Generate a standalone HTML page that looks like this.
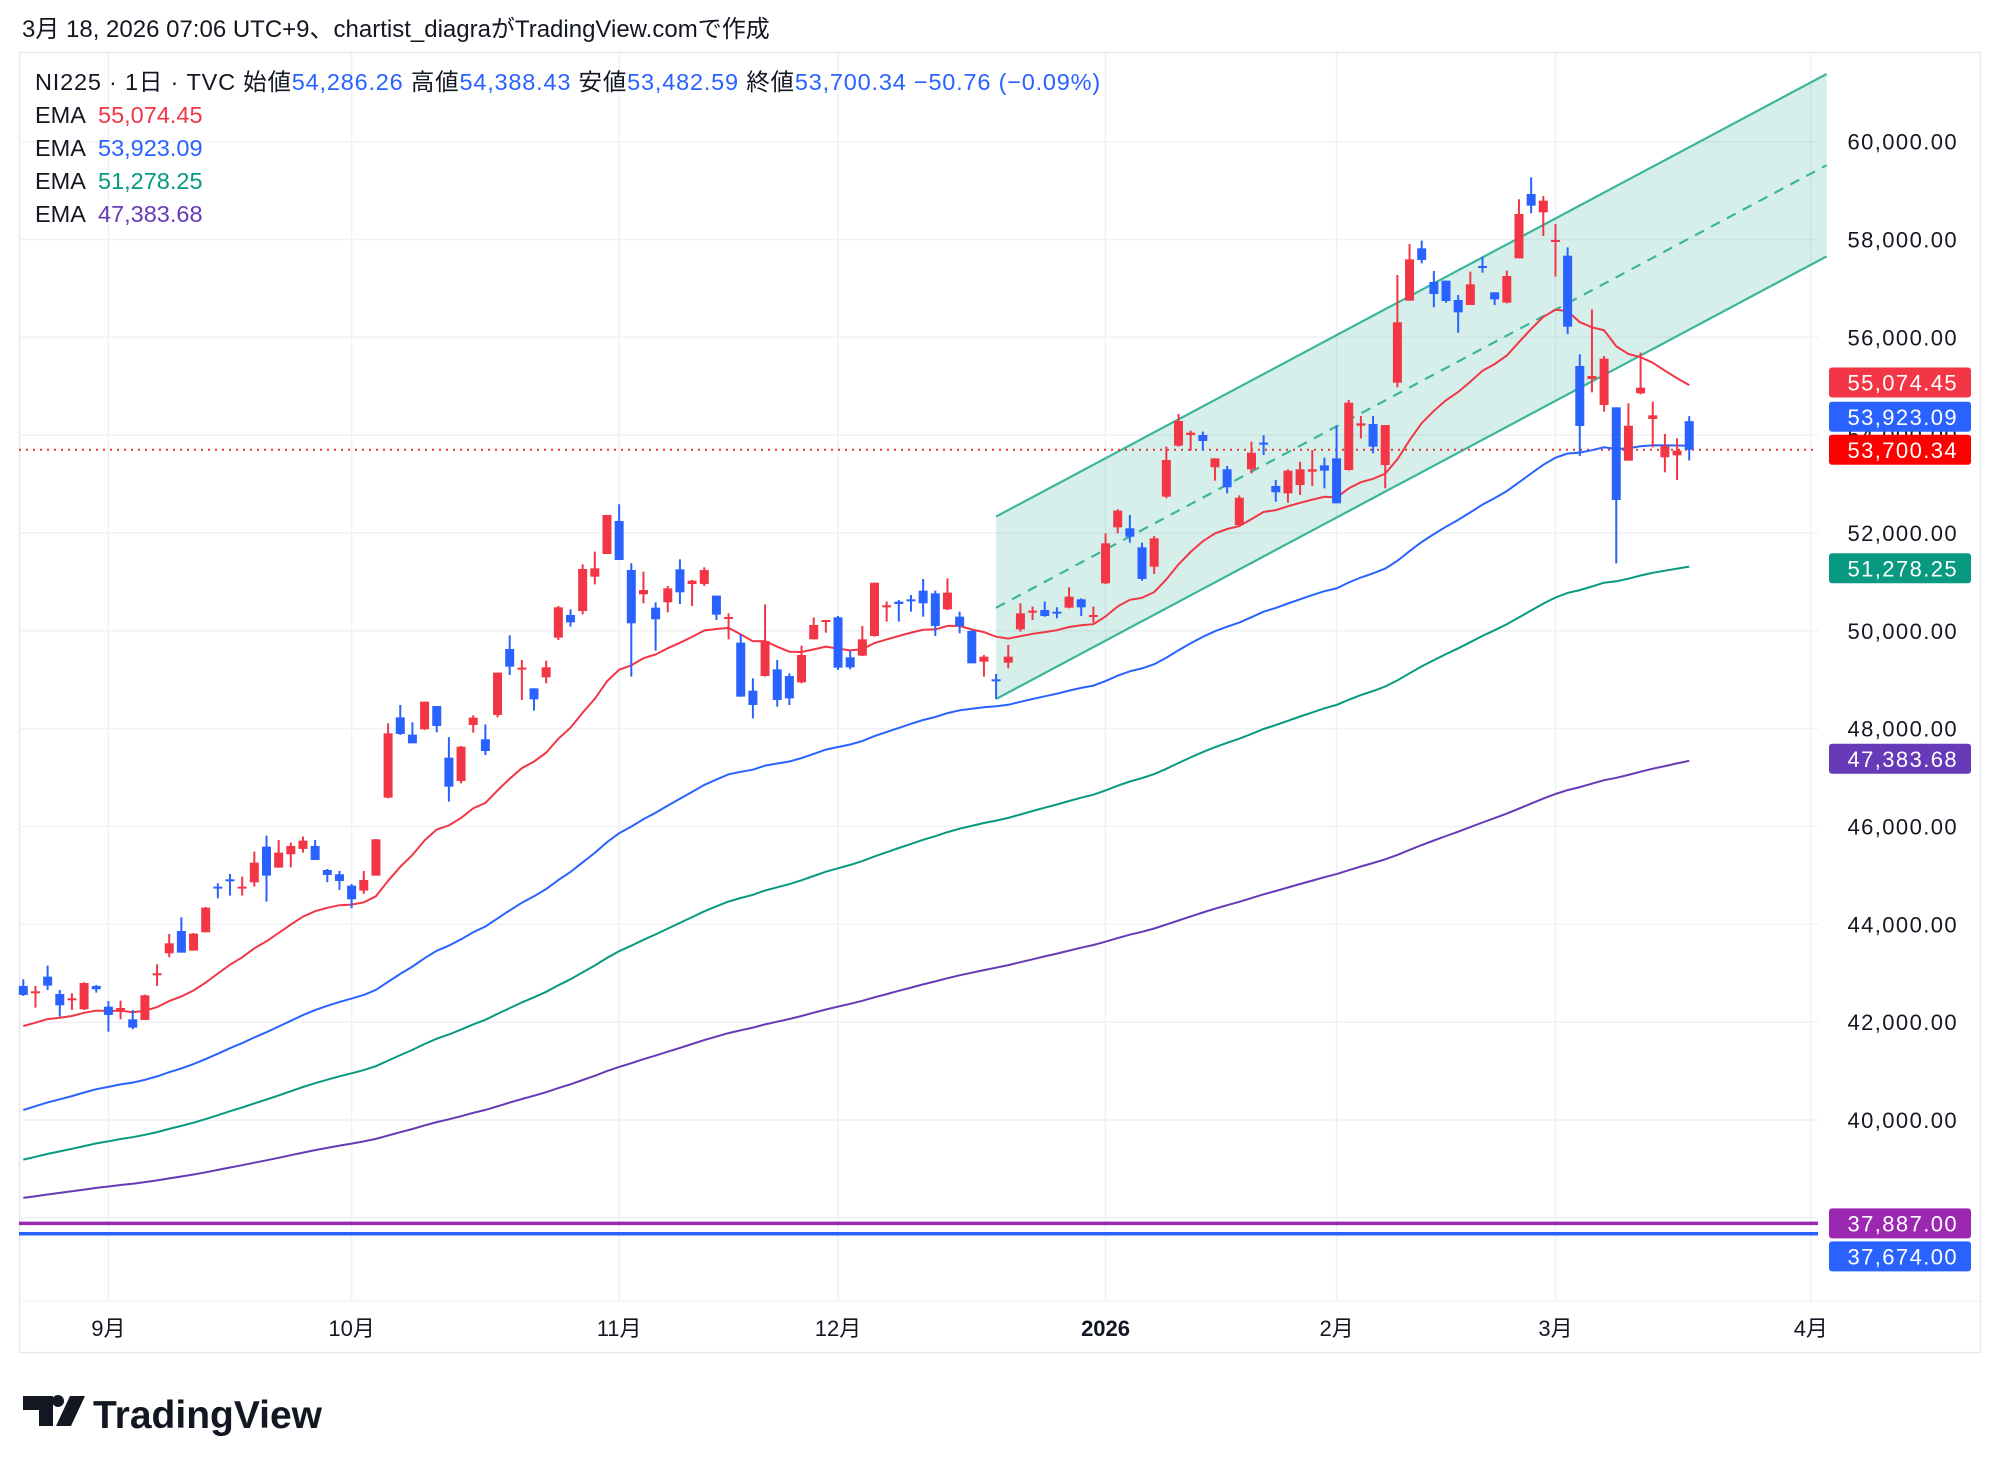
<!DOCTYPE html>
<html><head><meta charset="utf-8">
<style>
html,body{margin:0;padding:0;background:#fff;}
svg{display:block;}
text{font-family:"Liberation Sans","Noto Sans CJK JP",sans-serif;}
</style></head>
<body>
<svg id="chart" width="2000" height="1469" viewBox="0 0 2000 1469" xmlns="http://www.w3.org/2000/svg">
<rect x="0" y="0" width="2000" height="1469" fill="#ffffff"/>
<text x="22" y="37" font-size="24" fill="#131722">3月 18, 2026 07:06 UTC+9、chartist_diagraがTradingView.comで作成</text>
<rect x="19.5" y="52.5" width="1961" height="1300" fill="none" stroke="#e6e8ee" stroke-width="1.5"/>
<g id="grid"></g>
<g id="channel"></g>
<g id="hlines"></g>
<g id="emas"></g>
<g id="candles"></g>
<g id="yaxis"></g>
<g id="xaxis"></g>
<g id="labels"></g>
<g font-size="23.5">
<text x="35" y="90" fill="#131722" letter-spacing="0.8">NI225 · 1日 · TVC  始値<tspan fill="#2962ff">54,286.26</tspan>  高値<tspan fill="#2962ff">54,388.43</tspan>  安値<tspan fill="#2962ff">53,482.59</tspan>  終値<tspan fill="#2962ff">53,700.34  −50.76 (−0.09%)</tspan></text>
<text x="35" y="123" fill="#131722">EMA <tspan x="98" fill="#f23645">55,074.45</tspan></text>
<text x="35" y="156" fill="#131722">EMA <tspan x="98" fill="#2962ff">53,923.09</tspan></text>
<text x="35" y="189" fill="#131722">EMA <tspan x="98" fill="#089981">51,278.25</tspan></text>
<text x="35" y="222" fill="#131722">EMA <tspan x="98" fill="#673ab7">47,383.68</tspan></text>
</g>
<g>
<path d="M23 1396 h30 v30 h-14 v-16 h-16 z M58 1407 a6 6 0 1 1 0.1 0 z M70 1396 h15 l-14 30 h-15 z" fill="#131722"/>
<text x="93" y="1428" font-size="39" font-weight="bold" fill="#131722">TradingView</text>
</g>
</svg>
<script>
const opens=[42740,42610,42931,42576,42454,42263,42740,42317,42249,42058,42045,42978,43408,43864,43462,43837,44771,44920,44750,44859,45588,45159,45432,45541,45602,45111,45023,44791,44689,44995,
46589,48231,47877,47986,48463,47407,46930,48075,47782,48279,49628,49219,48824,49049,49860,50323,50405,51107,51570,52245,51243,50746,50473,50582,51257,50957,50957,50719,50248,49758,48776,49076,49213,
49076,48947,49826,50187,50275,49458,49492,49894,50507,50596,50643,50820,50766,50439,50289,49996,49369,49008,49349,50030,50391,50425,50391,50473,50643,50303,50970,52115,52095,51706,51311,52742,53784,
54002,54002,53341,53301,52160,53301,53846,52960,52810,52980,53253,53382,53525,53287,54193,54227,53389,55072,56748,57818,57130,57157,56762,56660,57457,56919,56708,57614,58929,58554,57948,57668,55413,55147,54616,54568,53478,54854,54330,53546,53587,54286];
const highs=[42876,42740,43156,42658,42590,42815,42760,42433,42440,42249,42563,43183,43803,44144,43823,44355,44839,45029,44975,45486,45813,45724,45670,45793,45724,45132,45091,44825,45091,45738,
48109,48484,48129,48552,48463,47823,47645,48272,48088,49145,49908,49403,48824,49390,50507,50439,51359,51618,52368,52586,51380,51209,50582,50916,51461,51039,51298,50719,50357,49935,49029,50541,49403,
49131,49696,50275,50221,50303,49594,50098,50984,50596,50630,50732,51059,50820,51072,50391,50016,49505,49117,49710,50562,50494,50596,50480,50889,50664,50494,51992,52483,52367,51802,51938,53764,54432,
54091,54071,53525,53369,52770,53866,53996,53083,53301,53457,53696,53539,54193,54718,54391,54391,54207,57273,57907,57975,57355,57157,56864,57341,57648,56919,57362,58820,59270,58888,58316,57839,55651,56571,55617,54568,54650,55686,54684,54023,53934,54388];
const lows=[42536,42297,42658,42113,42249,42249,42604,41806,42058,41854,42045,42740,43326,43421,43462,43837,44532,44587,44587,44771,44464,45159,45166,45466,45316,44859,44702,44328,44621,44995,
46576,47870,47700,47973,47925,46508,46882,47918,47461,48231,49097,48586,48368,48926,49812,50085,50337,50950,51570,51448,49063,50562,49594,50378,50548,50507,50916,50221,49826,48654,48211,49063,48449,
48483,48926,49826,49962,49199,49212,49485,49880,50187,50187,50391,50289,49894,50425,49948,49335,49063,48606,49233,49982,50221,50289,50255,50459,50303,50166,50957,51992,51802,51025,51161,52708,53764,
53682,53682,53069,52810,52130,53219,53594,52640,52619,52776,52960,52912,52606,53273,53934,53628,52912,54977,56748,57512,56612,56708,56094,56660,57321,56660,56694,57614,58534,58070,57239,56067,53573,54875,54479,51379,53478,54834,53750,53239,53083,53482];
const closes=[42556,42631,42747,42345,42488,42801,42672,42147,42290,41888,42549,42999,43612,43421,43810,44341,44750,44886,44771,45261,44995,45466,45602,45711,45316,45009,44886,44512,44907,45738,
47904,47891,47700,48552,48054,46814,47632,48225,47543,49145,49267,49247,48599,49254,50480,50173,51264,51277,52368,51448,50153,50834,50235,50868,50787,51025,51243,50330,50282,48654,48484,49792,48586,
48619,49505,50119,50221,49246,49253,49826,50984,50521,50548,50630,50562,50098,50780,50098,49335,49471,48981,49471,50357,50412,50303,50371,50698,50480,50323,51788,52456,51924,51059,51890,53491,54289,
54050,53880,53525,52933,52720,53641,53818,52831,53273,53301,53301,53273,52606,54663,54241,53764,54207,56306,57593,57580,56885,56742,56510,57082,57430,56776,57253,58520,58691,58793,57989,56217,54186,55208,55563,52674,54193,54970,54405,53778,53682,53700.34];
const emaPeriods=[20,62,118,240];
const emaSeeds=[41922,40205,39190,38407];
const emaColors=['#f23645','#2962ff','#089981','#673ab7'];
const yTicks=[38000,40000,42000,44000,46000,48000,50000,52000,54000,56000,58000,60000];
const monthBars=[7,27,49,67,89,108,126,147];
const monthLabels=['9月','10月','11月','12月','2026','2月','3月','4月'];
const channelBars=[80,148.3];
const channelUpper=[52335,61382];
const channelLower=[48606,57654];
const hLevels=[37887,37674];
const hColors=['#9c27b0','#2962ff'];
const lastClose=53700.34;

const NS='http://www.w3.org/2000/svg';
const X0=23.3, DX=12.16, PL=19, PR=1818, PT=53, PB=1301;
function xOf(i){return X0+i*DX;}
function yOf(p){return 141.6+(60000-p)*0.04892;}
function mk(tag,attrs,parent){const e=document.createElementNS(NS,tag);for(const k in attrs)e.setAttribute(k,attrs[k]);parent.appendChild(e);return e;}
const grid=document.getElementById('grid');
yTicks.forEach(v=>{const l=mk('line',{x1:PL,x2:PR,y1:yOf(v),y2:yOf(v),stroke:'#f0f1f4','stroke-width':1.5},grid);

});
monthBars.forEach(b=>{const l=mk('line',{x1:xOf(b),x2:xOf(b),y1:PT,y2:PB,stroke:'#f0f1f4','stroke-width':1.5},grid);

});
const sep1=mk('line',{x1:PL,x2:1980,y1:PB,y2:PB,stroke:'#eceef2','stroke-width':1},grid);



const ch=document.getElementById('channel');
const cx1=xOf(channelBars[0]),cx2=xOf(channelBars[1]);
const poly=mk('polygon',{points:`${cx1},${yOf(channelUpper[0])} ${cx2},${yOf(channelUpper[1])} ${cx2},${yOf(channelLower[1])} ${cx1},${yOf(channelLower[0])}`,fill:'rgba(8,153,129,0.16)'},ch);


[[channelUpper,'channel-upper',null],[channelLower,'channel-lower',null],[[ (channelUpper[0]+channelLower[0])/2,(channelUpper[1]+channelLower[1])/2],'channel-median','10 8']].forEach(([arr,nm,dash])=>{
const a={x1:cx1,x2:cx2,y1:yOf(arr[0]),y2:yOf(arr[1]),stroke:'#3bb69b','stroke-width':2.2};if(dash)a['stroke-dasharray']=dash;
const l=mk('line',a,ch);

});

const hl=document.getElementById('hlines');
hLevels.forEach((v,k)=>{const l=mk('line',{x1:PL,x2:PR,y1:yOf(v),y2:yOf(v),stroke:hColors[k],'stroke-width':3.5},hl);

});
const dl=mk('line',{x1:PL,x2:PR,y1:yOf(lastClose),y2:yOf(lastClose),stroke:'#e53935','stroke-width':2,'stroke-dasharray':'2 5'},hl);



const eg=document.getElementById('emas');
emaPeriods.forEach((n,k)=>{const a=2/(n+1);let e=emaSeeds[k];const pts=[];
closes.forEach((c,i)=>{if(i>0)e=a*c+(1-a)*e;pts.push(xOf(i).toFixed(1)+','+yOf(e).toFixed(1));});
const pl=mk('polyline',{points:pts.join(' '),fill:'none',stroke:emaColors[k],'stroke-width':2},eg);

});

const cg=document.getElementById('candles');
closes.forEach((c,i)=>{const o=opens[i],up=c>=o,col=up?'#f23645':'#2962ff';const x=xOf(i);
const w=mk('line',{x1:x,x2:x,y1:yOf(highs[i]),y2:yOf(lows[i]),stroke:col,'stroke-width':2},cg);


const t=yOf(Math.max(o,c)),b=yOf(Math.min(o,c));
const r=mk('rect',{x:x-4.5,y:t,width:9,height:Math.max(2,b-t),fill:col},cg);

});

const ya=document.getElementById('yaxis');
yTicks.forEach(v=>{if(v<40000)return;const t=mk('text',{x:1958,y:yOf(v)+8,'text-anchor':'end','font-size':22,fill:'#131722','letter-spacing':'1.4'},ya);
t.textContent=v.toLocaleString('en-US',{minimumFractionDigits:2});

});

const xa=document.getElementById('xaxis');
monthBars.forEach((b,k)=>{const t=mk('text',{x:xOf(b),y:1336,'text-anchor':'middle','font-size':22,fill:'#131722','font-weight':monthLabels[k]==='2026'?'bold':'normal'},xa);
t.textContent=monthLabels[k];

});

const lg=document.getElementById('labels');
const labelVals=[55074.45,53923.09,lastClose,51278.25,47383.68,37887,37674];
const labelCols=['#f23645','#2962ff','#ff0000','#089981','#673ab7','#9c27b0','#2962ff'];
const ys=labelVals.map(yOf);
ys[1]=Math.min(ys[1],ys[2]-33);ys[0]=Math.min(ys[0],ys[1]-33);
ys[6]=Math.max(ys[6],ys[5]+33);
labelVals.forEach((v,k)=>{const y=ys[k];
const r=mk('rect',{x:1829,y:y-15,width:142,height:30,rx:3,fill:labelCols[k]},lg);


const t=mk('text',{x:1958,y:y+8,'text-anchor':'end','font-size':22,fill:'#ffffff','letter-spacing':'1.4'},lg);
t.textContent=v.toLocaleString('en-US',{minimumFractionDigits:2,maximumFractionDigits:2});

});
</script>
</body></html>
